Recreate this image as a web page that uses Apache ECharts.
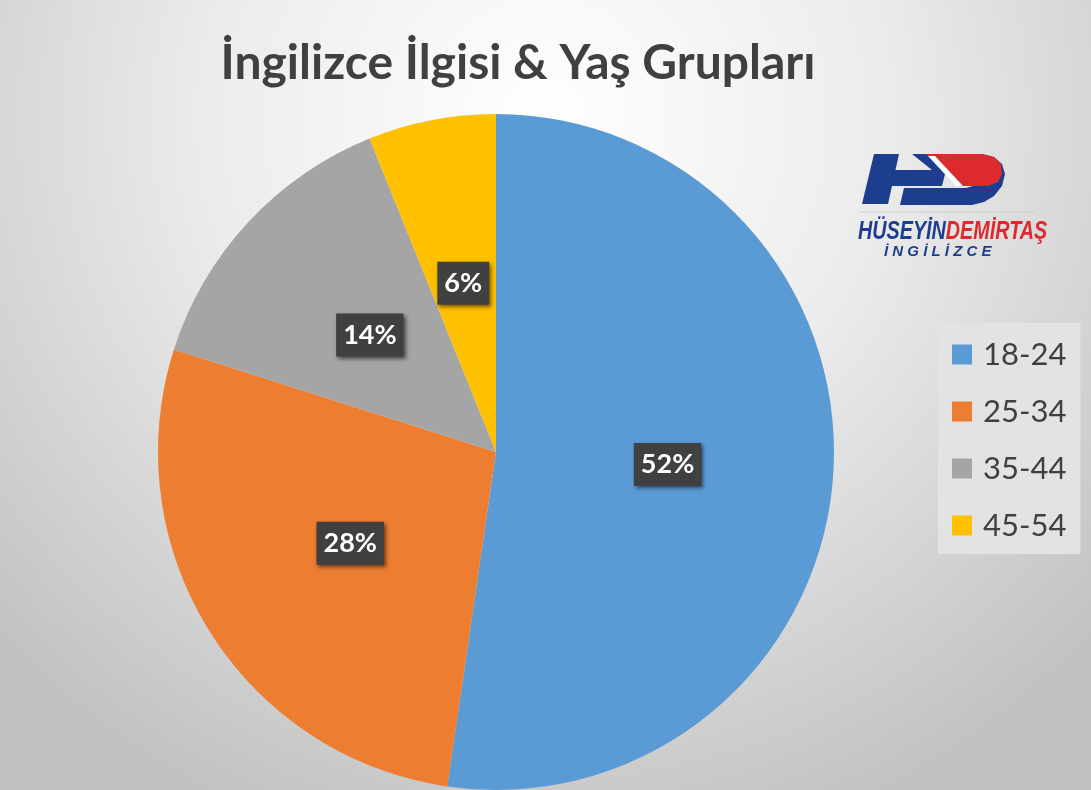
<!DOCTYPE html>
<html>
<head>
<meta charset="utf-8">
<script src="https://cdn.jsdelivr.net/npm/echarts@6/dist/echarts.min.js"></script>
<style>
html,body{margin:0;padding:0;}
#chart{width:1091px;height:790px;}
</style>
</head>
<body>
<div id="chart"></div>
<script>
const titleText = 'İngilizce İlgisi & Yaş Grupları';
const categories = ['18-24', '25-34', '35-44', '45-54'];
const shares = [52.3, 27.6, 14.0, 6.1];
const labels = ['52%', '28%', '14%', '6%'];
const colors = ['#5b9bd5', '#ed7d31', '#a5a5a5', '#ffc000'];

const chart = echarts.init(document.getElementById('chart'));
const FONT = 'Lato, "Open Sans", sans-serif';
const BLUE = '#1d3e8e';
const RED = '#dc2a2e';

const option = {
  backgroundColor: {
    type: 'radial', x: 0.5, y: 0.15, r: 0.95,
    colorStops: [{offset: 0, color: '#ffffff'}, {offset: 0.45, color: '#ececec'}, {offset: 1, color: '#c2c2c2'}]
  },
  color: colors,
  title: {
    text: titleText,
    left: 513, top: 35, textAlign: 'center',
    textStyle: {fontFamily: FONT, fontWeight: 'bold', fontSize: 48, color: '#404040'}
  },
  legend: {
    orient: 'vertical',
    left: 938, top: 323,
    padding: [16, 14, 13, 14],
    backgroundColor: '#e3e3e3',
    itemWidth: 20, itemHeight: 20, itemGap: 26,
    icon: 'rect',
    textStyle: {fontFamily: FONT, fontSize: 31, lineHeight: 30, color: '#404040', padding: [0, 0, 0, 6]},
    data: categories
  },
  series: [{
    type: 'pie',
    center: [496, 452],
    radius: 338,
    startAngle: 90,
    clockwise: true,
    avoidLabelOverlap: false,
    silent: true,
    itemStyle: {borderWidth: 0},
    label: {
      show: true,
      position: 'inside',
      formatter: p => labels[p.dataIndex],
      fontFamily: FONT, fontWeight: 'bold', fontSize: 27, color: '#ffffff',
      backgroundColor: '#404040',
      padding: [9, 7, 7, 7],
      shadowColor: 'rgba(0,0,0,0.55)', shadowBlur: 4, shadowOffsetX: 2, shadowOffsetY: 2
    },
    labelLine: {show: false},
    data: categories.map((c, i) => ({name: c, value: shares[i]}))
  }],
  graphic: [
    {type: 'polygon', shape: {points: [[874,154],[899,154],[888,204],[862,204]]}, style: {fill: BLUE}},
    {type: 'polygon', shape: {points: [[884,170],[946,170],[942,186],[880,186]]}, style: {fill: BLUE}},
    {type: 'polygon', shape: {points: [[912,154],[982,154],[994,157],[1002,164],[1005,174],[1002,186],[994,196],[984,202],[972,205],[900,205],[904,188],[966,188],[976,185],[982,179],[984,174],[980,170],[932,170]]}, style: {fill: BLUE}},
    {type: 'polygon', shape: {points: [[926,154],[982,154],[994,157],[1001,164],[1002,174],[998,182],[988,186],[962,186]]}, style: {fill: RED}},
    {type: 'polygon', shape: {points: [[928,156],[935,156],[963,186],[956,186]]}, style: {fill: '#ffffff'}},
    {type: 'line', shape: {x1: 860, y1: 212, x2: 1035, y2: 212}, style: {stroke: '#c8d0dc', lineWidth: 1}},
    {
      type: 'text', x: 858, y: 219, scaleX: 0.76,
      style: {
        rich: {
          b: {fontFamily: '"Liberation Sans", sans-serif', fontStyle: 'italic', fontWeight: 'bold', fontSize: 26, fill: BLUE},
          r: {fontFamily: '"Liberation Sans", sans-serif', fontStyle: 'italic', fontWeight: 'bold', fontSize: 26, fill: RED}
        },
        text: '{b|HÜSEYİN}{r|DEMİRTAŞ}'
      }
    },
    {
      type: 'text', x: 884, y: 244,
      style: {
        text: 'İ N G İ L İ Z C E',
        fontFamily: '"Liberation Sans", sans-serif', fontStyle: 'italic', fontWeight: 'bold', fontSize: 15, fill: BLUE
      }
    }
  ]
};
chart.setOption(option);
</script>
</body>
</html>
